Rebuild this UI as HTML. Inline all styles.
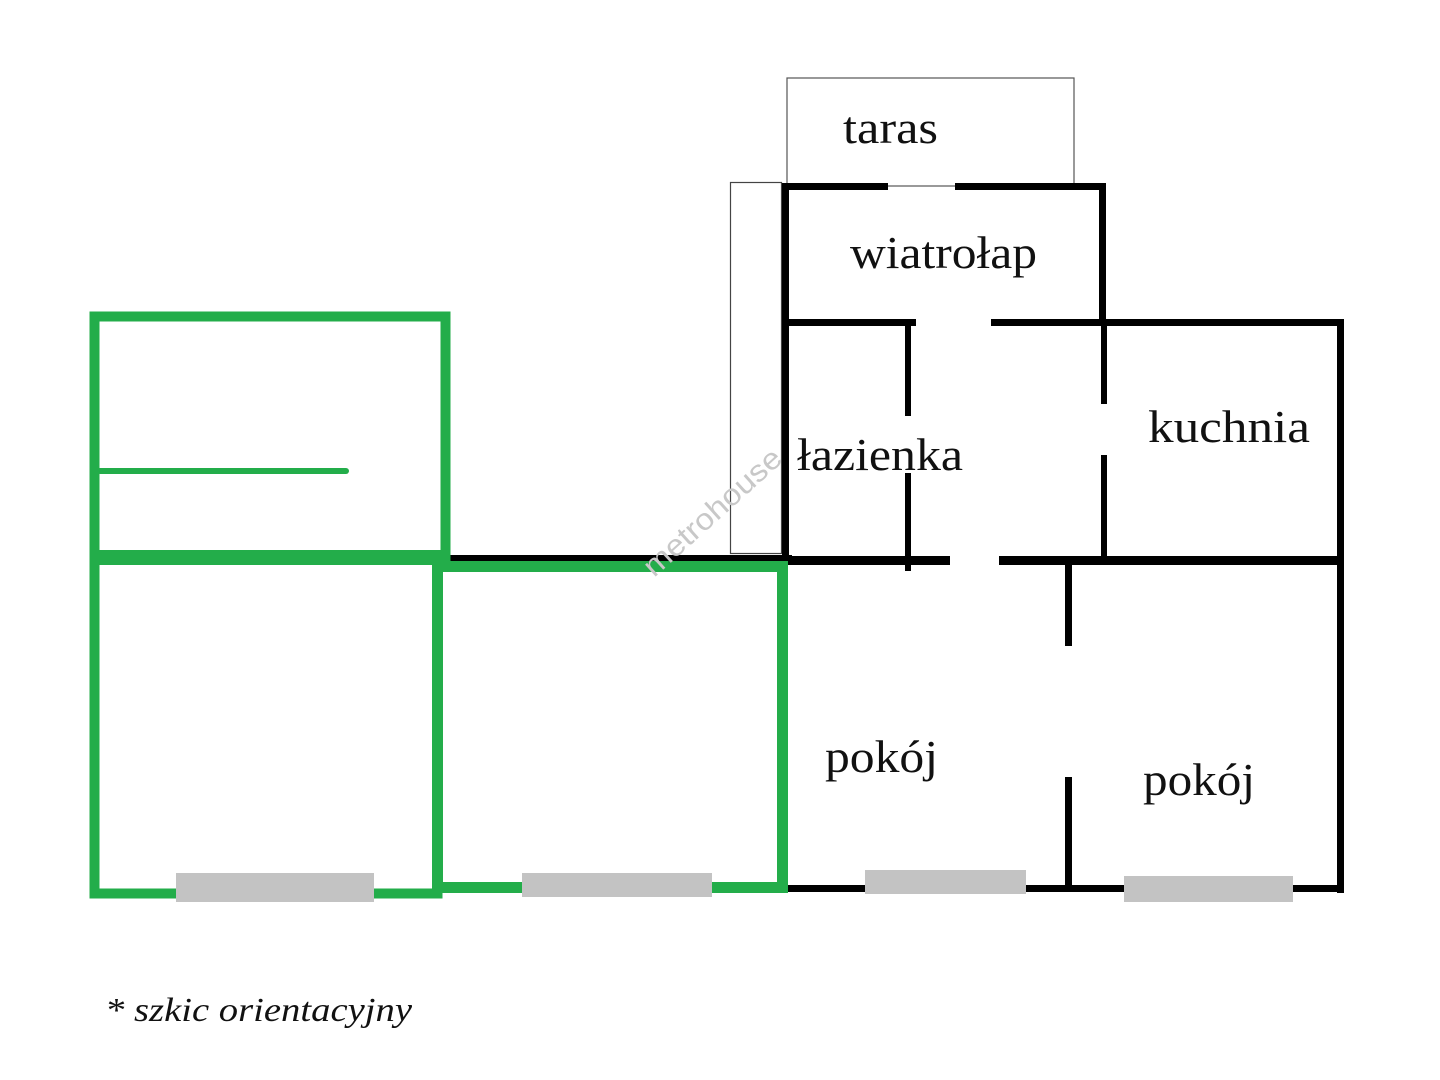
<!DOCTYPE html>
<html><head><meta charset="utf-8"><style>
html,body{margin:0;padding:0;background:#fff;}
svg{display:block;}
text{font-family:"Liberation Serif",serif;fill:#111;}
</style></head><body>
<svg width="1440" height="1080" viewBox="0 0 1440 1080" xmlns="http://www.w3.org/2000/svg">
<rect x="787" y="78" width="287" height="108" fill="none" stroke="#555" stroke-width="1.2"/>
<rect x="730.5" y="182.5" width="51" height="371" fill="none" stroke="#444" stroke-width="1.2"/>
<rect x="447" y="555" width="345" height="7" fill="#000"/>
<g fill="#000">
  <rect x="782" y="183" width="106" height="7"/>
  <rect x="955" y="183" width="150" height="7"/>
  <rect x="782" y="183" width="7" height="380"/>
  <rect x="1099" y="183" width="7" height="142"/>
  <rect x="782" y="319" width="134" height="7"/>
  <rect x="991" y="319" width="352" height="7"/>
  <rect x="905" y="319" width="6" height="97"/>
  <rect x="905" y="473" width="6" height="98"/>
  <rect x="1101" y="319" width="6" height="85"/>
  <rect x="1101" y="455" width="6" height="104"/>
  <rect x="1337" y="319" width="7" height="574"/>
  <rect x="786" y="556" width="164" height="9"/>
  <rect x="999" y="556" width="345" height="9"/>
  <rect x="1065" y="562" width="7" height="84"/>
  <rect x="1065" y="777" width="7" height="114"/>
  <rect x="786" y="885" width="558" height="7"/>
</g>
<g fill="none" stroke="#23ad4a">
  <rect x="94.5" y="316.5" width="351" height="241" stroke-width="10"/>
  <rect x="94.5" y="557.5" width="343" height="336" stroke-width="10"/>
  <rect x="94" y="550" width="352" height="15" fill="#23ad4a" stroke="none"/>
  <rect x="437.5" y="566.5" width="345" height="321" stroke-width="11"/>
  <line x1="100" y1="471" x2="346" y2="471" stroke-width="6" stroke-linecap="round"/>
</g>
<g fill="#c3c3c3">
  <rect x="176" y="873" width="198" height="29"/>
  <rect x="522" y="873" width="190" height="24"/>
  <rect x="865" y="870" width="161" height="24"/>
  <rect x="1124" y="876" width="169" height="26"/>
</g>
<g font-size="46" lengthAdjust="spacingAndGlyphs">
<text x="843" y="143" textLength="95" lengthAdjust="spacingAndGlyphs">taras</text>
<text x="850" y="268" textLength="187" lengthAdjust="spacingAndGlyphs">wiatrołap</text>
<text x="797" y="470" textLength="166" lengthAdjust="spacingAndGlyphs">łazienka</text>
<text x="1148" y="442" textLength="162" lengthAdjust="spacingAndGlyphs">kuchnia</text>
<text x="825" y="772" textLength="113" lengthAdjust="spacingAndGlyphs">pokój</text>
<text x="1143" y="795" textLength="112" lengthAdjust="spacingAndGlyphs">pokój</text>
</g>
<text x="105" y="1021" font-size="34" font-style="italic" textLength="307" lengthAdjust="spacingAndGlyphs">* szkic orientacyjny</text>
<text x="0" y="0" font-size="30" style="font-family:'Liberation Sans',sans-serif;fill:#c8c8c8" transform="translate(654,578) rotate(-42)" textLength="175" lengthAdjust="spacingAndGlyphs">metrohouse</text>
</svg>
</body></html>
